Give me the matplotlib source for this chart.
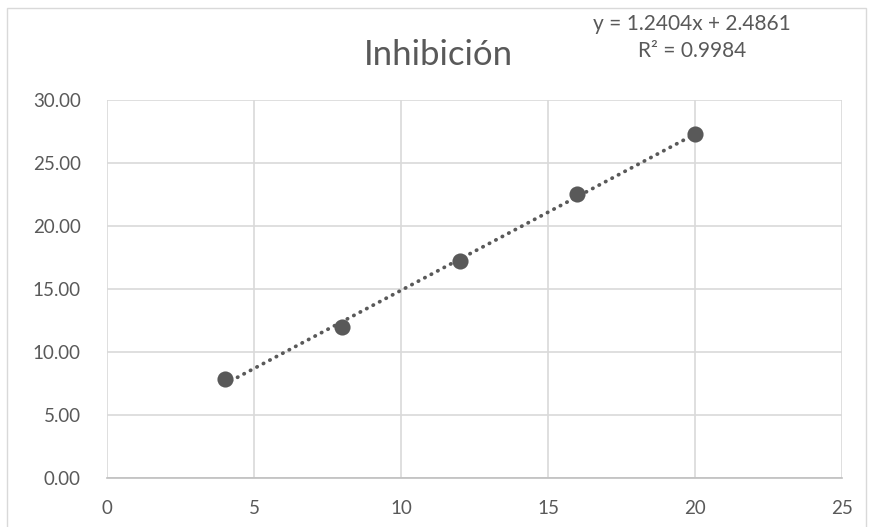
import matplotlib
matplotlib.use("Agg")
import matplotlib.pyplot as plt
from matplotlib.patches import Rectangle
import numpy as np

# Data
concentration = [4, 8, 12, 16, 20]
inhibition = [7.85, 11.98, 17.22, 22.52, 27.29]
slope = 1.2404
intercept = 2.4861
r_squared = 0.9984

x_ticks = [0, 5, 10, 15, 20, 25]
y_ticks = [0, 5, 10, 15, 20, 25, 30]

plt.rcParams['font.family'] = ['Lato', 'DejaVu Sans']
text_color = '#595959'
grid_color = '#d9d9d9'

fig = plt.figure(figsize=(8.74, 5.27), dpi=100)
ax = fig.add_axes([107 / 874, 1 - 478 / 527, (842 - 107) / 874, (478 - 100) / 527])

# Chart border
fig.patches.append(Rectangle((7 / 874, -0.05), (866 - 7) / 874, 1 - 8 / 527 + 0.05,
                             transform=fig.transFigure, fill=False,
                             edgecolor='#d9d9d9', linewidth=1.0))

ax.set_xlim(0, 25)
ax.set_ylim(0, 30)
ax.set_xticks(x_ticks)
ax.set_yticks(y_ticks)
ax.set_xticklabels([str(t) for t in x_ticks])
ax.set_yticklabels([f"{t:.2f}" for t in y_ticks])
ax.tick_params(length=0, labelsize=13.5, labelcolor=text_color)
ax.tick_params(axis='y', pad=19)
ax.tick_params(axis='x', pad=16)

ax.grid(True, color=grid_color, linewidth=1.2)
ax.set_axisbelow(True)
for side in ['top', 'right', 'left']:
    ax.spines[side].set_visible(False)
ax.spines['bottom'].set_color('#bfbfbf')
ax.spines['bottom'].set_linewidth(1.2)

# Linear trendline (round dots)
xt = np.array([min(concentration), max(concentration)])
ax.plot(xt, slope * xt + intercept, linestyle=(0, (0.1, 1.85)), dash_capstyle='round',
        color=text_color, linewidth=2.7, zorder=3)

ax.scatter(concentration, inhibition, s=135, color=text_color, zorder=4, linewidths=0)

fig.text(438 / 874, 1 - 55 / 527, "Inhibición", ha='center', va='center',
         fontsize=25, color=text_color)
fig.text(692 / 874, 1 - 24 / 527, f"y = {slope:.4f}x + {intercept:.4f}",
         ha='center', va='center', fontsize=15, color=text_color)
fig.text(692 / 874, 1 - 51 / 527, f"R² = {r_squared:.4f}",
         ha='center', va='center', fontsize=15, color=text_color)

fig.savefig("out.png", dpi=100)
